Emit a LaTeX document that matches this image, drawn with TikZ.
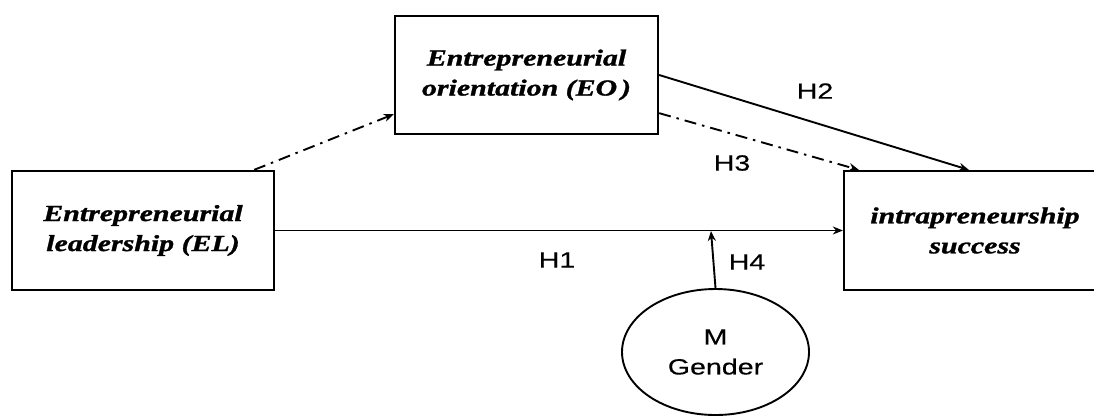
\documentclass[tikz,border=0pt]{standalone}
\usepackage{fontspec}
\setmainfont{Liberation Serif}
\newfontfamily\boxfont[FakeStretch=1.3, BoldItalicFeatures={FakeBold=1.2}]{Liberation Serif}
\newfontfamily\labfont[FakeStretch=1.3, FakeBold=0.4]{Liberation Sans}
\usetikzlibrary{arrows.meta,calc,shapes.geometric}
\begin{document}
\begin{tikzpicture}[x=1pt,y=-1pt,
  construct/.style={draw, line width=2.3pt, rectangle, align=center, inner sep=0pt,
    font=\boxfont\fontsize{23}{30}\selectfont\bfseries\itshape},
  moder/.style={draw, line width=1.9pt, ellipse, align=center, inner sep=0pt,
    font=\labfont\fontsize{22}{30}\selectfont},
  hlab/.style={font=\labfont\fontsize{22}{26}\selectfont, inner sep=0pt},
  conn/.style={line width=1.9pt, -{Stealth[length=10pt,width=8pt]}},
  dashdot/.style={conn, dash pattern=on 12pt off 6pt on 2.5pt off 6pt}
]
\useasboundingbox (0,0) rectangle (1094,416);
\clip (0,0) rectangle (1094,416);
\fill[white] (0,0) rectangle (1094,416);

\node[construct, minimum width=262pt, minimum height=119pt] (EL) at (143,230.5)
  {Entrepreneurial\\leadership (EL)};
\node[construct, minimum width=263pt, minimum height=118pt] (EO) at (526.5,75)
  {Entrepreneurial\\orientation (EO\,)};
\node[construct, minimum width=262pt, minimum height=119pt] (IS) at (975,230.5)
  {intrapreneurship\\success};
\node[moder, minimum width=187pt, minimum height=126pt] (GE) at (715.5,352)
  {M\\Gender};

\coordinate (h4end) at (711,231);

\draw[dashdot] ($(EL.north east)+(-21,0)$) -- ($(EO.south west)+(0,-21)$);
\draw[conn] (EO.east) -- ($(IS.north west)+(126,0)$);
\draw[dashdot] ($(EO.south east)+(0,-22)$) -- ($(IS.north west)+(16,0)$);
\draw[conn] (EL.east) -- (IS.west);
\draw[conn] (GE.north) -- (h4end);

\node[hlab] (H1) at (557,260) {H1};
\node[hlab] (H2) at (815,91) {H2};
\node[hlab] (H3) at (732,163) {H3};
\node[hlab] (H4) at (747,262) {H4};
\end{tikzpicture}
\end{document}
